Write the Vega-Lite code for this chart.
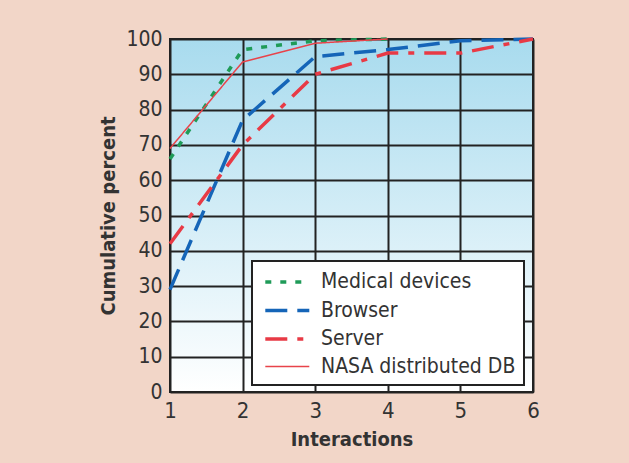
{
  "$schema": "https://vega.github.io/schema/vega-lite/v6.json",
  "width": 363,
  "height": 353,
  "autosize": {"type": "none"},
  "padding": {"left": 170, "top": 39, "right": 96, "bottom": 71},
  "background": "#f2d6c8",
  "config": {
    "font": "'Liberation Sans Narrow','DejaVu Sans Condensed',sans-serif",
    "view": {
      "fill": {"gradient": "linear", "x1": 0, "y1": 0, "x2": 0, "y2": 1,
        "stops": [{"offset": 0, "color": "#a8dbee"}, {"offset": 1, "color": "#ffffff"}]},
      "stroke": "#222222",
      "strokeWidth": 2
    }
  },
  "data": {
    "values": [
      {"series": "Medical devices", "interactions": 1, "percent": 66},
      {"series": "Medical devices", "interactions": 2, "percent": 97},
      {"series": "Medical devices", "interactions": 3, "percent": 99.5},
      {"series": "Medical devices", "interactions": 4, "percent": 100},
      {"series": "Browser", "interactions": 1, "percent": 29},
      {"series": "Browser", "interactions": 2, "percent": 77},
      {"series": "Browser", "interactions": 3, "percent": 95},
      {"series": "Browser", "interactions": 4, "percent": 97},
      {"series": "Browser", "interactions": 5, "percent": 99.5},
      {"series": "Browser", "interactions": 6, "percent": 100},
      {"series": "Server", "interactions": 1, "percent": 42},
      {"series": "Server", "interactions": 2, "percent": 70},
      {"series": "Server", "interactions": 3, "percent": 90},
      {"series": "Server", "interactions": 4, "percent": 96},
      {"series": "Server", "interactions": 5, "percent": 96},
      {"series": "Server", "interactions": 6, "percent": 100},
      {"series": "NASA distributed DB", "interactions": 1, "percent": 69},
      {"series": "NASA distributed DB", "interactions": 2, "percent": 93.5},
      {"series": "NASA distributed DB", "interactions": 3, "percent": 98.8},
      {"series": "NASA distributed DB", "interactions": 4, "percent": 100}
    ]
  },
  "mark": {"type": "line", "clip": false},
  "encoding": {
    "x": {
      "field": "interactions", "type": "quantitative",
      "scale": {"domain": [1, 6], "nice": false},
      "axis": {
        "values": [1, 2, 3, 4, 5, 6], "grid": true, "gridColor": "#222222", "gridWidth": 2, "gridOpacity": 1,
        "domain": false, "ticks": false, "labelFlush": false, "labelFontSize": 22, "labelColor": "#333333", "labelPadding": 8,
        "title": "Interactions", "titleFontSize": 20, "titleFontWeight": "bold", "titleColor": "#333333", "titlePadding": 8
      }
    },
    "y": {
      "field": "percent", "type": "quantitative",
      "scale": {"domain": [0, 100], "nice": false},
      "axis": {
        "values": [0, 10, 20, 30, 40, 50, 60, 70, 80, 90, 100], "grid": true, "gridColor": "#222222", "gridWidth": 2, "gridOpacity": 1,
        "domain": false, "ticks": false, "labelFlush": false, "labelFontSize": 21, "labelColor": "#333333", "labelPadding": 8,
        "title": "Cumulative percent", "titleFontSize": 20, "titleFontWeight": "bold", "titleColor": "#333333", "titlePadding": 7
      }
    },
    "color": {
      "field": "series", "type": "nominal",
      "scale": {
        "domain": ["Medical devices", "Browser", "Server", "NASA distributed DB"],
        "range": ["#1f9b58", "#1565b8", "#e83a45", "#e8434a"]
      },
      "legend": {
        "title": null, "orient": "none", "legendX": 82, "legendY": 222,
        "fillColor": "#ffffff", "strokeColor": "#222222", "padding": 8,
        "symbolType": "M-0.7,0L3.3,0", "symbolSize": 484, "symbolFillColor": "transparent",
        "labelFontSize": 21, "labelColor": "#333333", "labelOffset": 35, "labelLimit": 400, "rowPadding": 5.5,
        "encode": {"legend": {"update": {"strokeWidth": {"value": 2}}}}
      }
    },
    "strokeDash": {
      "field": "series", "type": "nominal",
      "scale": {
        "domain": ["Medical devices", "Browser", "Server", "NASA distributed DB"],
        "range": [[6, 9], [22, 10], [22, 10, 6, 10], [1, 0]]
      }
    },
    "strokeWidth": {
      "field": "series", "type": "nominal",
      "scale": {
        "type": "ordinal",
        "domain": ["Medical devices", "Browser", "Server", "NASA distributed DB"],
        "range": [3.5, 3.5, 3.5, 1.5]
      }
    }
  }
}
